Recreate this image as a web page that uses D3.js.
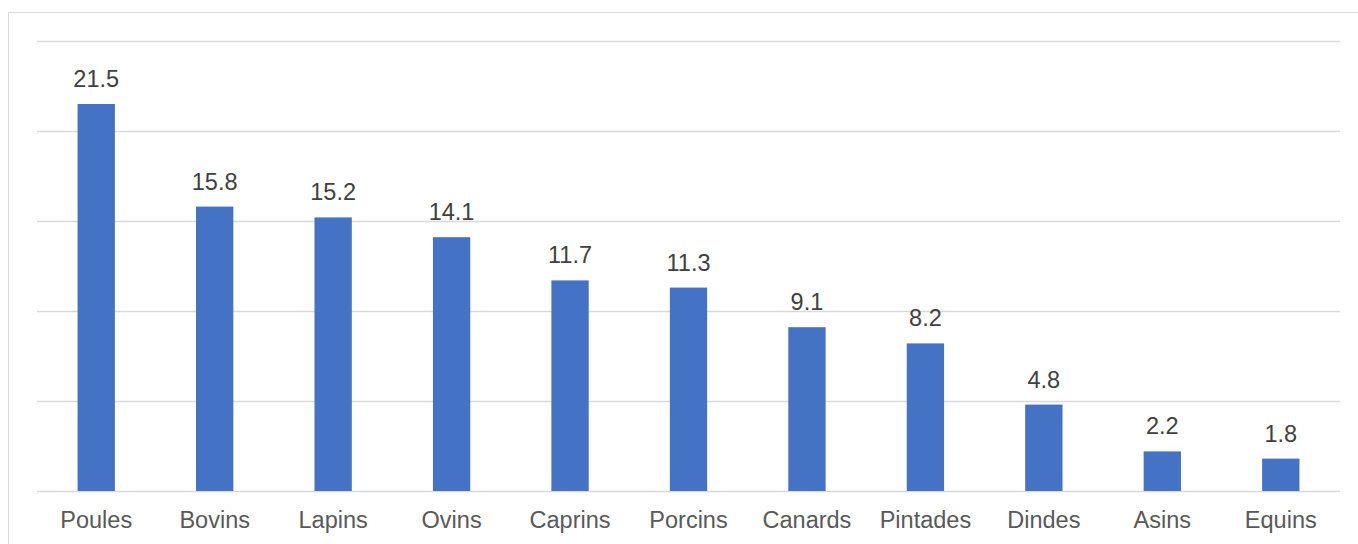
<!DOCTYPE html>
<html>
<head>
<meta charset="utf-8">
<script src="https://cdn.jsdelivr.net/npm/d3@7"></script>
<style>
  html, body { margin: 0; padding: 0; background: #fff; }
  svg { display: block; }
</style>
</head>
<body>
<svg id="chart" width="1358" height="544"></svg>
<script>
// Effectifs par espèce
const categories = ["Poules", "Bovins", "Lapins", "Ovins", "Caprins", "Porcins", "Canards", "Pintades", "Dindes", "Asins", "Equins"];
const values = [21.5, 15.8, 15.2, 14.1, 11.7, 11.3, 9.1, 8.2, 4.8, 2.2, 1.8];
const gridTicks = [0, 5, 10, 15, 20, 25];

const svg = d3.select("#chart");
const W = 1358, H = 544;
const margin = { left: 37, right: 18, top: 41, bottom: 53 };

// outer chart frame (light grey)
svg.append("rect")
  .attr("x", 8.5).attr("y", 12.5)
  .attr("width", W).attr("height", H)
  .attr("fill", "none").attr("stroke", "#d9d9d9").attr("stroke-width", 1);

const x = d3.scaleBand()
  .domain(categories)
  .range([margin.left, W - margin.right])
  .paddingInner(0.685)
  .paddingOuter(0.3425);

const y = d3.scaleLinear()
  .domain([0, 25])
  .range([H - margin.bottom, margin.top]);

// horizontal gridlines
svg.append("g")
  .selectAll("line")
  .data(gridTicks)
  .join("line")
  .attr("x1", margin.left).attr("x2", W - margin.right)
  .attr("y1", d => Math.round(y(d)) + 0.5).attr("y2", d => Math.round(y(d)) + 0.5)
  .attr("stroke", "#d9d9d9").attr("stroke-width", 1.3);

// bars
svg.append("g")
  .selectAll("rect")
  .data(values)
  .join("rect")
  .attr("x", (d, i) => x(categories[i]))
  .attr("width", x.bandwidth())
  .attr("y", d => y(d))
  .attr("height", d => y(0) - y(d))
  .attr("fill", "#4472c4");

// value labels
svg.append("g")
  .selectAll("text")
  .data(values)
  .join("text")
  .attr("x", (d, i) => x(categories[i]) + x.bandwidth() / 2)
  .attr("y", d => y(d) - 17)
  .attr("text-anchor", "middle")
  .attr("font-family", "Liberation Sans, Arial, sans-serif")
  .attr("font-size", 23.5)
  .attr("fill", "#404040")
  .text(d => d.toFixed(1));

// category axis
const xAxis = svg.append("g")
  .attr("transform", `translate(0,${y(0)})`)
  .call(d3.axisBottom(x).tickSize(0).tickPadding(0));
xAxis.select(".domain").remove();
xAxis.selectAll("text")
  .attr("dy", null)
  .attr("y", 37)
  .attr("font-family", "Liberation Sans, Arial, sans-serif")
  .attr("font-size", 23.5)
  .attr("fill", "#595959");
</script>
</body>
</html>
